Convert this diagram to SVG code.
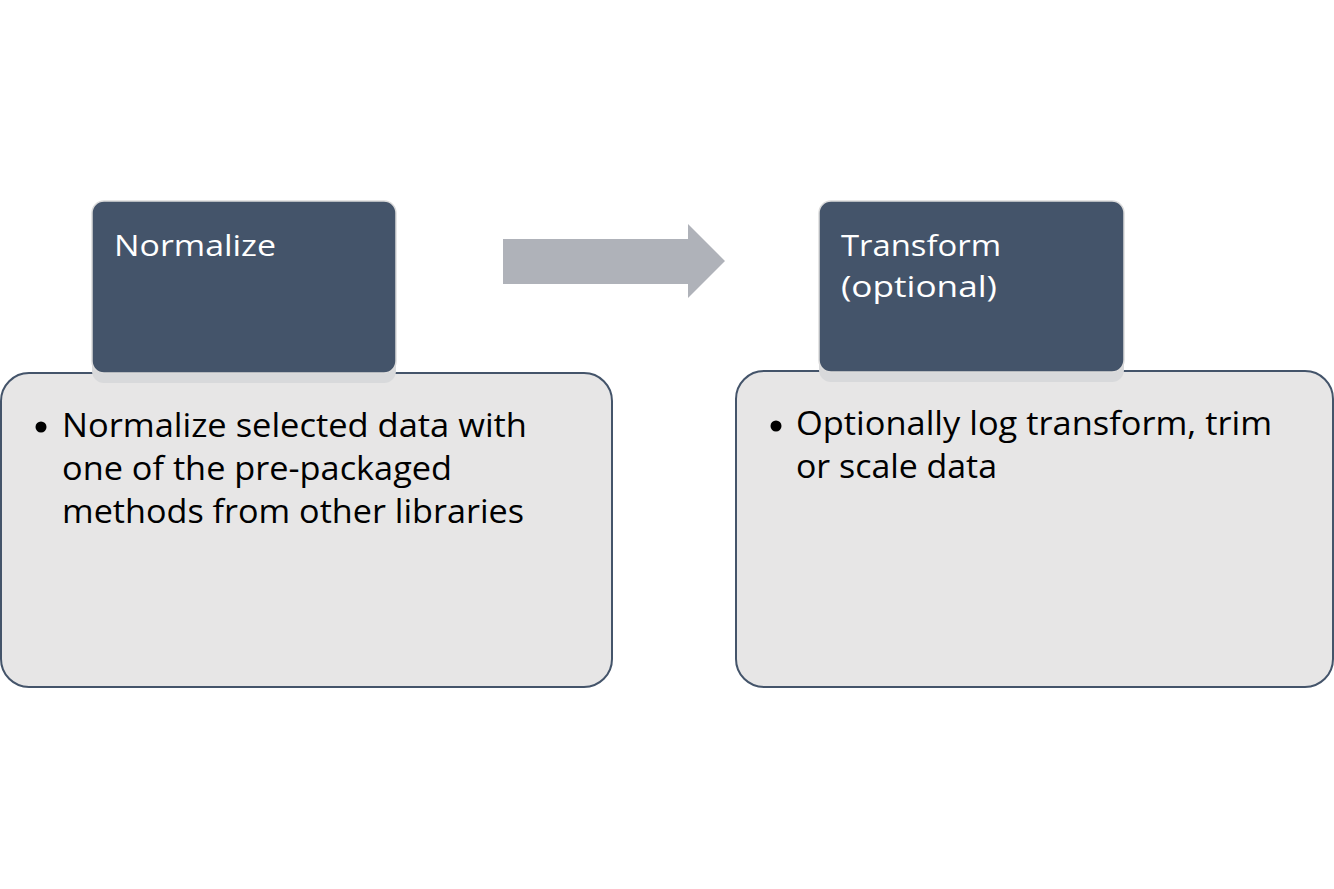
<svg xmlns="http://www.w3.org/2000/svg" width="1334" height="889" viewBox="0 0 1334 889">
<style>
.body{fill:#e7e6e6;stroke:#44546a;stroke-width:2}
.head{fill:#44546a;stroke:#dcdcdc;stroke-width:1.5}
.shadow{fill:#d8d9db}
.ht{font-family:"Open Sans","Noto Sans",sans-serif;font-size:30px;fill:#ffffff}
.bt{font-family:"Open Sans","Noto Sans",sans-serif;font-size:32px;fill:#000000}
.arrow{fill:#afb2b9}
</style>
<rect width="1334" height="889" fill="#ffffff"/>
<g id="node-normalize">
<rect class="body" x="1" y="373" width="611" height="314" rx="28" ry="28"/>
<rect class="shadow" x="92" y="210" width="304" height="173" rx="12" ry="12"/>
<rect class="head" x="92" y="201" width="304" height="172" rx="12" ry="12"/>
<text class="ht" x="114" y="256" textLength="162" lengthAdjust="spacingAndGlyphs">Normalize</text>
<circle cx="41" cy="427" r="5.5" fill="#000000"/>
<text class="bt" x="62" y="437" textLength="465" lengthAdjust="spacingAndGlyphs">Normalize selected data with</text>
<text class="bt" x="62" y="480" textLength="390" lengthAdjust="spacingAndGlyphs">one of the pre-packaged</text>
<text class="bt" x="62" y="523" textLength="462" lengthAdjust="spacingAndGlyphs">methods from other libraries</text>
</g>
<g id="connectors">
<polygon class="arrow" points="503,239 688,239 688,224 725,261 688,298 688,284 503,284"/>
</g>
<g id="node-transform">
<rect class="body" x="736" y="371" width="597" height="316" rx="28" ry="28"/>
<rect class="shadow" x="819" y="210" width="305" height="172" rx="12" ry="12"/>
<rect class="head" x="819" y="201" width="305" height="171" rx="12" ry="12"/>
<text class="ht" x="841" y="256" textLength="160" lengthAdjust="spacingAndGlyphs">Transform</text>
<text class="ht" x="841" y="297" textLength="156" lengthAdjust="spacingAndGlyphs">(optional)</text>
<circle cx="776" cy="426" r="5.5" fill="#000000"/>
<text class="bt" x="796" y="435" textLength="476" lengthAdjust="spacingAndGlyphs">Optionally log transform, trim</text>
<text class="bt" x="796" y="478" textLength="201" lengthAdjust="spacingAndGlyphs">or scale data</text>
</g>
</svg>
